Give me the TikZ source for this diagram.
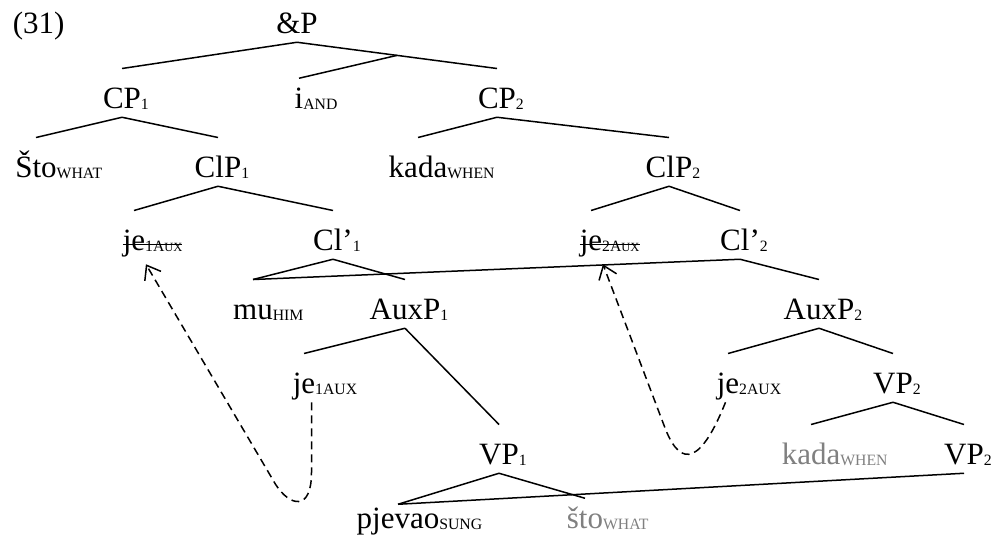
\documentclass[tikz,border=0pt]{standalone}
\usepackage{fontspec}
\setmainfont{Liberation Serif}
\usepackage{xcolor}
\usepackage{tikz}
\usetikzlibrary{arrows.meta,calc}

% subscripts hang to the right, so a node is centred on its head word
\newcommand{\subsc}[1]{\raisebox{-0.6pt}{\fontsize{6.3}{7}\selectfont #1}}
\newcommand{\cat}[2]{#1\rlap{\subsc{#2}}}
\newcommand{\struck}[2]{\setbox0\hbox{#1\subsc{#2}}\rlap{\rule[1.9pt]{\wd0}{0.6pt}}\cat{#1}{#2}}
\newcommand{\smc}[1]{{\fontsize{5}{6}\selectfont #1}}

\begin{document}
\begin{tikzpicture}[
    x=0.4pt, y=-0.4pt,
    line width=0.6pt,
    every node/.style={anchor=base, inner sep=0pt, text height=15.5pt,
      text depth=3.4pt, font=\fontsize{12.4}{14}\selectfont},
    % lower copies in grey
    lowcopy/.style={text=gray},
    movearrow/.style={dash pattern=on 3.2pt off 2pt,
      -{Straight Barb[length=5pt,width=7.5pt]}},
  ]
  \useasboundingbox (0,0) rectangle (998,542);

  \node[anchor=base west] (exnode) at (12,33) {(31)};
  \node (andnode) at (297,33) {\&P};

  \node (cp1node) at (122,108) {\cat{CP}{1}};
  \node[text height=11.6pt] (inode) at (299,108) {\cat{i}{AND}};
  \node (cp2node) at (497,108) {\cat{CP}{2}};

  \node (stonode) at (36,177) {\cat{Što}{WHAT}};
  \node (clp1node) at (218,177) {\cat{ClP}{1}};
  \node (kadanode) at (418,177) {\cat{kada}{WHEN}};
  \node (clp2node) at (669,177) {\cat{ClP}{2}};

  \node (je1cnode) at (134,250) {\struck{je}{1A\smc{UX}}};
  \node (cl1node) at (333,250) {\cat{Cl’}{1}};
  \node (je2cnode) at (591,250) {\struck{je}{2A\smc{UX}}};
  \node (cl2node) at (740,250) {\cat{Cl’}{2}};

  \node (munode) at (253,319) {\cat{mu}{HIM}};
  \node (auxp1node) at (405,319) {\cat{AuxP}{1}};
  \node (auxp2node) at (819,319) {\cat{AuxP}{2}};

  \node (je1node) at (304,393) {\cat{je}{1AUX}};
  \node (je2node) at (728,393) {\cat{je}{2AUX}};
  \node (vp2node) at (893,393) {\cat{VP}{2}};

  \node (vp1node) at (499,464) {\cat{VP}{1}};
  \node[lowcopy] (kadalnode) at (811,464) {\cat{kada}{WHEN}};
  \node (vp2lnode) at (964,464) {\cat{VP}{2}};

  \node[text height=9.2pt] (pjevaonode) at (398,528) {\cat{pjevao}{SUNG}};
  \node[lowcopy, text height=11.6pt] (stolnode) at (585,528) {\cat{što}{WHAT}};

  % branches
  \draw (andnode.south) -- (cp1node.north);
  \draw (andnode.south) -- coordinate[pos=.5] (andmid) (cp2node.north);
  \draw (andmid) -- (inode.north);
  \draw (cp1node.south) -- (stonode.north);
  \draw (cp1node.south) -- (clp1node.north);
  \draw (cp2node.south) -- (kadanode.north);
  \draw (cp2node.south) -- (clp2node.north);
  \draw (clp1node.south) -- (je1cnode.north);
  \draw (clp1node.south) -- (cl1node.north);
  \draw (clp2node.south) -- (je2cnode.north);
  \draw (clp2node.south) -- (cl2node.north);
  \draw (cl1node.south) -- (munode.north);
  \draw (cl1node.south) -- (auxp1node.north);
  \draw (cl2node.south) -- (munode.north);
  \draw (cl2node.south) -- (auxp2node.north);
  \draw (auxp1node.south) -- (je1node.north);
  \draw (auxp1node.south) -- (vp1node.north);
  \draw (auxp2node.south) -- (je2node.north);
  \draw (auxp2node.south) -- (vp2node.north);
  \draw (vp2node.south) -- (kadalnode.north);
  \draw (vp2node.south) -- (vp2lnode.north);
  \draw (vp1node.south) -- (pjevaonode.north);
  \draw (vp1node.south) -- (stolnode.north);
  \draw (vp2lnode.south) -- (pjevaonode.north);

  % movement of the auxiliaries
  \draw[movearrow] ([xshift=3pt]je1node.south) -- ++(0,70)
    .. controls +(0,40) and +(14,22) .. ++(-36,12)
    -- ([yshift=-2pt]je1cnode.south east);
  \draw[movearrow] ([xshift=-1pt]je2node.south)
    .. controls +(-24,60) and +(16,40) .. +(-60,27)
    -- ([yshift=-2pt]je2cnode.south east);
\end{tikzpicture}
\end{document}
